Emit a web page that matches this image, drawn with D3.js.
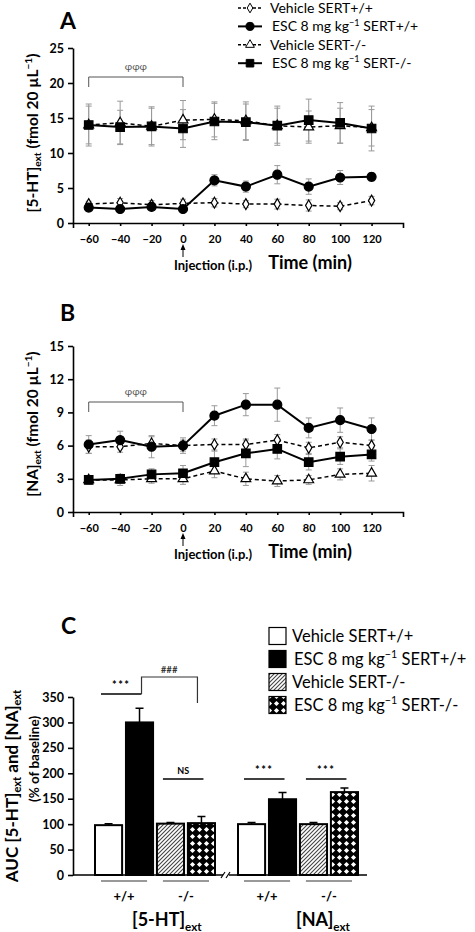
<!DOCTYPE html>
<html><head><meta charset="utf-8">
<script src="https://cdn.jsdelivr.net/npm/d3@7"></script>
<style>body{margin:0;background:#fff}svg text{font-family:Lato,"Open Sans",sans-serif}</style>
</head><body><svg id="c" width="475" height="932"></svg>
<script>
// ---------- DATA ----------
const times = [-60,-40,-20,0,20,40,60,80,100,120];
const seriesNames = ["Vehicle SERT+/+","ESC 8 mg kg|SERT+/+","Vehicle SERT-/-","ESC 8 mg kg|SERT-/-"];
// Panel A: [5-HT]ext
const ht_vehWT = [2.7,2.9,2.6,2.8,2.9,2.7,2.7,2.5,2.4,3.2];
const ht_vehWT_err = [0.4,0.6,0.6,0.6,0.6,0.5,0.7,0.8,0.5,0.6];
const ht_escWT = [2.2,2.0,2.3,2.0,6.1,5.2,6.9,5.2,6.5,6.6];
const ht_escWT_err = [0.3,0.3,0.3,0.3,0.8,0.8,1.3,1.1,1.0,0.6];
const ht_vehKO = [14.0,14.3,13.8,14.7,14.8,14.6,13.9,13.7,13.9,13.6];
const ht_vehKO_err = [3.0,3.1,2.8,2.8,2.5,2.7,2.8,2.3,2.5,2.6];
const ht_escKO = [14.0,13.7,13.8,13.5,14.5,14.4,13.9,14.7,14.3,13.5];
const ht_escKO_err = [2.7,2.4,2.6,2.7,2.6,2.6,2.5,3.0,2.9,3.2];
// Panel B: [NA]ext
const na_vehWT = [5.9,5.9,6.2,6.0,6.1,6.1,6.5,5.8,6.3,6.0];
const na_vehWT_err = [0.6,0.5,0.6,0.5,0.5,0.5,0.5,0.5,0.5,0.5];
const na_escWT = [6.1,6.5,5.9,6.0,8.7,9.7,9.7,7.6,8.3,7.5];
const na_escWT_err = [0.8,0.8,1.0,0.7,0.9,1.0,1.5,0.9,1.1,1.0];
const na_vehKO = [2.9,2.9,3.0,3.0,3.7,3.0,2.8,2.9,3.4,3.5];
const na_vehKO_err = [0.4,0.5,0.4,0.5,0.6,0.6,0.5,0.4,0.5,0.7];
const na_escKO = [2.9,3.0,3.4,3.5,4.5,5.3,5.7,4.5,5.0,5.2];
const na_escKO_err = [0.3,0.4,0.5,0.7,1.0,1.2,0.9,0.7,0.7,0.6];
const htTicks = [0,5,10,15,20,25];
const naTicks = [0,3,6,9,12,15];
// Panel C: AUC (% of baseline)
const aucGroups = ["5-HT","NA"];
const genotypes = ["+/+","-/-"];
const treatments = ["Vehicle SERT+/+","ESC SERT+/+","Vehicle SERT-/-","ESC SERT-/-"];
const auc_5ht = [98,300,101,102];
const auc_5ht_err = [3,28,2,13];
const auc_na = [100,149,100,163];
const auc_na_err = [3,13,3,8];
const aucTicks = [0,50,100,150,200,250,300,350];

// ---------- HELPERS ----------
const svg = d3.select("#c");
const defs = svg.append("defs");
const ph = defs.append("pattern").attr("id","hatch").attr("patternUnits","userSpaceOnUse").attr("width",4).attr("height",4);
ph.append("rect").attr("width",4).attr("height",4).attr("fill","#fff");
ph.append("path").attr("d","M-1,1 l2,-2 M0,4 l4,-4 M3,5 l2,-2").attr("stroke","#444").attr("stroke-width",1.1);
const pc = defs.append("pattern").attr("id","cross").attr("patternUnits","userSpaceOnUse").attr("width",7).attr("height",7);
pc.append("rect").attr("width",7).attr("height",7).attr("fill","#000");
pc.append("path").attr("d","M3.5,0.9 L6.1,3.5 L3.5,6.1 L0.9,3.5Z").attr("fill","#fff");
const barFills = ["#fff","#000","url(#hatch)","url(#cross)"];

function rich(sel, parts, fs, subK){
  let shift = 0;
  const sk = subK || 0.3;
  parts.forEach(p=>{
    const [t,k] = typeof p === "string" ? [p,"n"] : p;
    const target = k==="sub" ? fs*sk : (k==="sup" ? -fs*0.42 : 0);
    const ts = sel.append("tspan").text(t).attr("dy", target - shift);
    if(k!=="n") ts.attr("font-size", fs*0.65);
    shift = target;
  });
}
function nameParts(n){
  const i = n.indexOf("|");
  if(i<0) return [n];
  return [n.slice(0,i), ["\u22121","sup"], " "+n.slice(i+1)];
}
const styles = [
  {shape:d3.symbolDiamond, size:34, fill:"#fff", dash:"4,3", w:1.5},
  {shape:d3.symbolCircle, size:64, fill:"#000", dash:null, w:2},
  {shape:d3.symbolTriangle, size:42, fill:"#fff", dash:"4,3", w:1.5},
  {shape:d3.symbolSquare, size:72, fill:"#000", dash:null, w:2}
];

function linePanel(o){
  const x = d3.scaleLinear().domain([-70,140]).range([73,403]);
  const y = d3.scaleLinear().domain([0,o.yMax]).range([o.y0,o.y1]);
  const g = svg.append("g");
  const ya = g.append("g").attr("transform","translate(73,0)")
    .call(d3.axisLeft(y).tickValues(o.ticks).tickSize(5).tickSizeOuter(0).tickPadding(4));
  const xa = g.append("g").attr("transform",`translate(0,${o.y0})`)
    .call(d3.axisBottom(x).tickValues(times).tickSize(3).tickSizeOuter(5).tickPadding(9));
  [ya,xa].forEach(a=>{a.selectAll("path,line").attr("stroke","#000").attr("stroke-width",1.6);
    a.selectAll("text").attr("fill","#000").attr("font-weight","bold");});
  ya.selectAll("text").attr("font-size",12.5);
  xa.selectAll("text").attr("font-size",11);
  g.append("path").attr("d",`M${x(-60)},${o.br+10}V${o.br}H${x(0)}V${o.br+10}`)
    .attr("fill","none").attr("stroke","#555").attr("stroke-width",1);
  g.append("text").attr("x",(x(-60)+x(0))/2).attr("y",o.br-7).attr("text-anchor","middle")
    .attr("font-size",10).attr("fill","#555").attr("font-family","DejaVu Serif").text("\u03c6\u03c6\u03c6");
  o.series.forEach((s)=>{
    s.v.forEach((v,i)=>{
      const cx = x(times[i]), e = s.e[i];
      g.append("path").attr("d",`M${cx},${y(v-e)}V${y(v+e)}M${cx-3},${y(v-e)}h6M${cx-3},${y(v+e)}h6`)
        .attr("stroke","#9a9a9a").attr("stroke-width",1).attr("fill","none");
    });
  });
  const line = d3.line().x((d,i)=>x(times[i])).y(d=>y(d));
  o.series.forEach((s,k)=>{
    const st = styles[k];
    g.append("path").attr("d",line(s.v)).attr("fill","none").attr("stroke","#000")
      .attr("stroke-width",st.w).attr("stroke-dasharray",st.dash);
  });
  o.series.forEach((s,k)=>{
    const st = styles[k];
    g.selectAll(null).data(s.v).enter().append("path")
      .attr("transform",(d,i)=>`translate(${x(times[i])},${y(d)})`)
      .attr("d",d3.symbol().type(st.shape).size(st.size)())
      .attr("fill",st.fill).attr("stroke","#000").attr("stroke-width",1.2);
  });
  g.append("text").attr("x",60).attr("y",o.titleY).attr("font-size",23).attr("font-weight","bold")
    .attr("font-family","Liberation Sans, Arial").text(o.title);
  const yl = g.append("text").attr("transform",`translate(38,${o.labelY}) rotate(-90)`)
    .attr("text-anchor","middle").attr("font-size",15.5).attr("font-weight","bold");
  rich(yl, o.ylabel, 15.5, 0.22);
  const ax = x(0);
  g.append("path").attr("d",`M${ax},${o.y0+34}V${o.y0+23}`).attr("stroke","#000").attr("stroke-width",1);
  g.append("path").attr("d",`M${ax-2.5},${o.y0+27}L${ax},${o.y0+21}L${ax+2.5},${o.y0+27}Z`).attr("fill","#000");
  g.append("text").attr("x",213).attr("y",o.y0+47).attr("text-anchor","middle")
    .attr("font-size",13).attr("font-weight","bold").text("Injection (i.p.)");
  g.append("text").attr("x",310).attr("y",o.y0+46).attr("text-anchor","middle")
    .attr("font-size",18).attr("font-weight","bold").text("Time (min)");
}

linePanel({y0:223,y1:48,yMax:25,ticks:htTicks,br:77,title:"A",titleY:29,labelY:133,
  ylabel:["[5-HT]",["ext","sub"]," (fmol 20 \u00b5L",["\u22121","sup"],")"],
  series:[{v:ht_vehWT,e:ht_vehWT_err},{v:ht_escWT,e:ht_escWT_err},{v:ht_vehKO,e:ht_vehKO_err},{v:ht_escKO,e:ht_escKO_err}]});
linePanel({y0:512,y1:346,yMax:15,ticks:naTicks,br:402,title:"B",titleY:321,labelY:424,
  ylabel:["[NA]",["ext","sub"]," (fmol 20 \u00b5L",["\u22121","sup"],")"],
  series:[{v:na_vehWT,e:na_vehWT_err},{v:na_escWT,e:na_escWT_err},{v:na_vehKO,e:na_vehKO_err},{v:na_escKO,e:na_escKO_err}]});

// legend A
const lgA = svg.append("g");
seriesNames.forEach((n,k)=>{
  const cy = 8 + k*18.4, st = styles[k];
  lgA.append("path").attr("d",`M238,${cy}H262`).attr("stroke","#000").attr("stroke-width",st.w).attr("stroke-dasharray",st.dash?"3,2":null);
  lgA.append("path").attr("transform",`translate(250,${cy})`).attr("d",d3.symbol().type(st.shape).size(st.size*0.8)())
    .attr("fill",st.fill).attr("stroke","#000").attr("stroke-width",1);
  const t = lgA.append("text").attr("x",k%2?272:270).attr("y",cy+5).attr("font-size",14);
  rich(t, nameParts(n), 14);
});

// ---------- PANEL C ----------
const yC = d3.scaleLinear().domain([0,350]).range([875,697]);
const outer = d3.scaleBand().domain(aucGroups).range([94,359]).paddingInner(21/143).paddingOuter(0);
const inner = d3.scaleBand().domain(treatments).range([0,outer.bandwidth()]).paddingInner(0.06);
const gC = svg.append("g");
const yaC = gC.append("g").attr("transform","translate(73,0)")
  .call(d3.axisLeft(yC).tickValues(aucTicks).tickSize(5).tickSizeOuter(0).tickPadding(4));
yaC.selectAll("path,line").attr("stroke","#000").attr("stroke-width",1.6);
yaC.selectAll("text").attr("fill","#000").attr("font-weight","bold").attr("font-size",12.5);
gC.append("path").attr("d",`M73,875H223M229,875H367`).attr("stroke","#000").attr("stroke-width",1.6);
gC.append("path").attr("d",`M221,878L225,872M226,878L230,872`).attr("stroke","#000").attr("stroke-width",1.2);
const aucData = [{g:"5-HT",v:auc_5ht,e:auc_5ht_err,lx:38},{g:"NA",v:auc_na,e:auc_na_err,lx:59}];
aucData.forEach(grp=>{
  const gx = outer(grp.g);
  grp.v.forEach((v,i)=>{
    const bx = gx + inner(treatments[i]), bw = inner.bandwidth(), cx = bx+bw/2;
    gC.append("path").attr("d",`M${cx},${yC(v)}V${yC(v+grp.e[i])}M${cx-4},${yC(v+grp.e[i])}h8`)
      .attr("stroke","#000").attr("stroke-width",1.5).attr("fill","none");
    gC.append("rect").attr("x",bx+1).attr("y",yC(v)).attr("width",bw-2).attr("height",yC(0)-yC(v))
      .attr("fill",barFills[i]).attr("stroke","#000").attr("stroke-width",2);
  });
  genotypes.forEach((gt,j)=>{
    const a = gx + inner(treatments[2*j]), b = gx + inner(treatments[2*j+1]) + inner.bandwidth();
    gC.append("path").attr("d",`M${a+7},881H${b-7}`).attr("stroke","#777").attr("stroke-width",1.5);
    gC.append("text").attr("x",(a+b)/2).attr("y",901).attr("text-anchor","middle")
      .attr("font-size",13).attr("font-weight","bold").text(gt);
  });
  const t = gC.append("text").attr("x",gx+grp.lx).attr("y",926)
    .attr("font-size",18).attr("font-weight","bold").attr("font-family","Open Sans");
  rich(t,["["+grp.g+"]",["ext","sub"]],18);
});
function sigLine(grp,j,y,label){
  const gx = outer(grp);
  const a = gx + inner(treatments[2*j]) + 7;
  const b = gx + inner(treatments[2*j+1]) + inner.bandwidth()/2 + 2;
  gC.append("path").attr("d",`M${a},${y}H${b}`).attr("stroke","#000").attr("stroke-width",1.5);
  gC.append("text").attr("x",(a+b)/2).attr("y",y-5).attr("text-anchor","middle")
    .attr("font-size",label==="NS"?9:11).attr("font-weight","bold").attr("letter-spacing",label==="NS"?0:1.5).text(label);
}
sigLine("5-HT",0,694,"***");
sigLine("5-HT",1,779,"NS");
sigLine("NA",0,779,"***");
sigLine("NA",1,779,"***");
{
  const gx = outer("5-HT");
  const a = gx + inner(treatments[1]) + inner.bandwidth()/2 + 2;
  const b = gx + inner(treatments[3]) + inner.bandwidth()/2 - 4;
  gC.append("path").attr("d",`M${a},694V677H${b}V703`).attr("fill","none").attr("stroke","#333").attr("stroke-width",1.2);
  gC.append("text").attr("x",(a+b)/2).attr("y",673).attr("text-anchor","middle").attr("font-size",9)
    .attr("font-weight","bold").attr("letter-spacing",0.5).attr("fill","#333").text("###");
}
gC.append("text").attr("x",61).attr("y",634).attr("font-size",23).attr("font-weight","bold")
  .attr("font-family","Liberation Sans, Arial").text("C");
const ylc = gC.append("text").attr("transform","translate(18,786) rotate(-90)").attr("text-anchor","middle")
  .attr("font-size",17).attr("font-weight","bold");
rich(ylc,["AUC [5-HT]",["ext","sub"]," and [NA]",["ext","sub"]],17,0.18);
gC.append("text").attr("transform","translate(39,759) rotate(-90)").attr("text-anchor","middle")
  .attr("font-size",13.5).attr("font-weight","bold").text("(% of baseline)");
seriesNames.forEach((n,k)=>{
  const cy = 636 + k*23;
  gC.append("rect").attr("x",269).attr("y",cy-8.5).attr("width",17).attr("height",17)
    .attr("fill",barFills[k]).attr("stroke","#000").attr("stroke-width",1.2);
  const t = gC.append("text").attr("x",k%2?294:292).attr("y",cy+6).attr("font-size",16.5);
  rich(t,nameParts(n),16.5);
});
</script></body></html>
